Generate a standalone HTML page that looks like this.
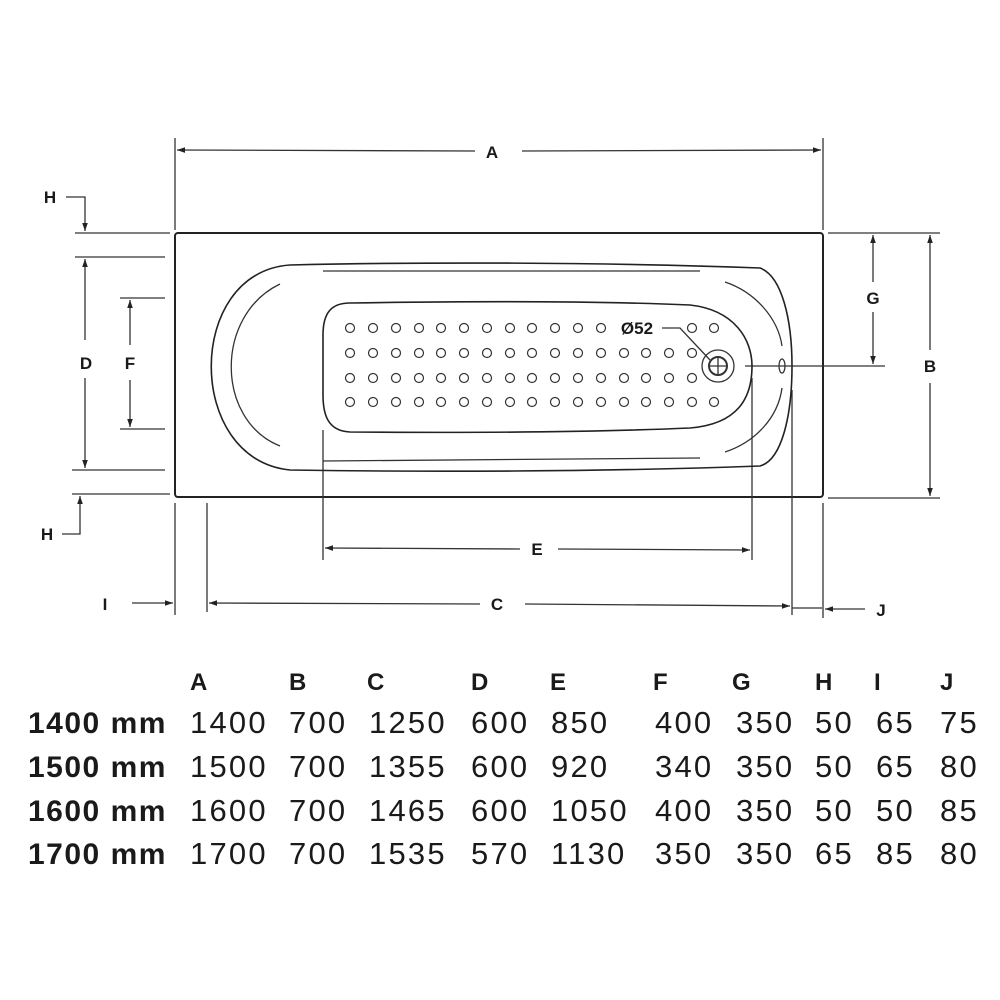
<!DOCTYPE html>
<html><head><meta charset="utf-8"><style>
html,body{margin:0;padding:0;background:#fff;}
svg{display:block;}
text{font-family:"Liberation Sans",sans-serif;fill:#1a1a1a;}
</style></head><body>
<svg width="1000" height="1000" viewBox="0 0 1000 1000" xmlns="http://www.w3.org/2000/svg">
<defs>
<marker id="ar" viewBox="0 0 10 10" refX="10" refY="5" markerWidth="10" markerHeight="10" markerUnits="userSpaceOnUse" orient="auto-start-reverse"><path d="M0,2 L10,5 L0,8 Z" fill="#222"/></marker>
<marker id="arl" viewBox="0 0 10 10" refX="10" refY="5" markerWidth="16" markerHeight="8" markerUnits="userSpaceOnUse" orient="auto-start-reverse"><path d="M0,1.5 L10,5 L0,8.5 Z" fill="#222"/></marker>
</defs>
<g stroke="#333" stroke-width="1.3" fill="none">
<!-- A -->
<line x1="175" y1="138" x2="175" y2="230"/>
<line x1="823" y1="138" x2="823" y2="230"/>
<line x1="177" y1="150" x2="475" y2="151" marker-start="url(#arl)"/>
<line x1="522" y1="151" x2="821" y2="150" marker-end="url(#arl)"/>
<!-- outer rect -->
<rect x="175" y="233" width="648" height="264" rx="3" stroke-width="2" stroke="#222"/>
<!-- left dims -->
<line x1="75" y1="233" x2="170" y2="233"/>
<line x1="75" y1="257" x2="165" y2="257"/>
<line x1="120" y1="298" x2="165" y2="298"/>
<line x1="120" y1="429" x2="165" y2="429"/>
<line x1="72" y1="470" x2="165" y2="470"/>
<line x1="72" y1="494" x2="170" y2="494"/>
<polyline points="66,197 85,197 85,231" marker-end="url(#arl)"/>
<line x1="85" y1="340" x2="85" y2="259" marker-end="url(#arl)"/>
<line x1="85" y1="378" x2="85" y2="468" marker-end="url(#arl)"/>
<polyline points="62,534 80,534 80,496" marker-end="url(#arl)"/>
<line x1="130" y1="345" x2="130" y2="300" marker-end="url(#arl)"/>
<line x1="130" y1="380" x2="130" y2="427" marker-end="url(#arl)"/>
<!-- right dims -->
<line x1="828" y1="233" x2="940" y2="233"/>
<line x1="828" y1="498" x2="940" y2="498"/>
<line x1="745" y1="366" x2="885" y2="366"/>
<line x1="873" y1="282" x2="873" y2="235" marker-end="url(#arl)"/>
<line x1="873" y1="312" x2="873" y2="364" marker-end="url(#arl)"/>
<line x1="930" y1="350" x2="930" y2="235" marker-end="url(#arl)"/>
<line x1="930" y1="383" x2="930" y2="496" marker-end="url(#arl)"/>
<!-- bottom extension lines -->
<line x1="175" y1="503" x2="175" y2="615"/>
<line x1="207" y1="503" x2="207" y2="612"/>
<line x1="323" y1="430" x2="323" y2="560"/>
<line x1="752" y1="378" x2="752" y2="560"/>
<line x1="792" y1="390" x2="792" y2="615"/>
<line x1="823" y1="503" x2="823" y2="618"/>
<!-- E -->
<line x1="520" y1="549" x2="325" y2="548" marker-end="url(#arl)"/>
<line x1="558" y1="549" x2="750" y2="550" marker-end="url(#arl)"/>
<!-- C -->
<line x1="480" y1="604" x2="209" y2="603" marker-end="url(#arl)"/>
<line x1="525" y1="604" x2="790" y2="606" marker-end="url(#arl)"/>
<!-- I, J -->
<line x1="132" y1="603" x2="173" y2="603" marker-end="url(#arl)"/>
<line x1="792" y1="608" x2="822" y2="608"/>
<line x1="865" y1="609" x2="825" y2="609" marker-end="url(#arl)"/>
<!-- tub outline -->
<path d="M290,265 C420,262 600,262 760,268 C782,276 792,320 792,366 C792,415 782,460 760,466 C600,472 420,472 290,470 C185,460 185,272 290,265 Z" stroke="#222" stroke-width="1.6"/>
<path d="M280,284 C215,315 215,420 280,446"/>
<line x1="323" y1="271" x2="700" y2="271"/>
<line x1="323" y1="461" x2="700" y2="458"/>
<path d="M725,282 C755,292 778,318 782,346"/>
<path d="M782,388 C778,418 755,442 725,452"/>
<!-- basin -->
<path d="M350,303 C480,301 600,301 690,305 C735,310 752,340 752,366 C752,398 738,424 690,428 C600,432 480,433 350,432 C328,431 323,415 323,395 L323,335 C323,312 332,303 350,303 Z" stroke="#222" stroke-width="1.6"/>
<!-- drain -->
<circle cx="718" cy="366" r="16"/>
<circle cx="718" cy="366" r="9" stroke-width="2"/>
<line x1="709" y1="366" x2="727" y2="366"/>
<line x1="718" y1="357" x2="718" y2="375"/>
<polyline points="662,328 680,328 710,360"/>
<ellipse cx="782" cy="366" rx="3" ry="7"/>
</g>
<g stroke="#333" stroke-width="1.2" fill="none">
<!-- dots -->
<g id="dots"></g>
</g>
<g stroke="#333" stroke-width="1.2" fill="none">
<!-- row1 -->
<circle cx="350" cy="328" r="4.5"/><circle cx="373" cy="328" r="4.5"/><circle cx="396" cy="328" r="4.5"/><circle cx="419" cy="328" r="4.5"/><circle cx="441" cy="328" r="4.5"/><circle cx="464" cy="328" r="4.5"/><circle cx="487" cy="328" r="4.5"/><circle cx="510" cy="328" r="4.5"/><circle cx="532" cy="328" r="4.5"/><circle cx="555" cy="328" r="4.5"/><circle cx="578" cy="328" r="4.5"/><circle cx="601" cy="328" r="4.5"/><circle cx="692" cy="328" r="4.5"/><circle cx="714" cy="328" r="4.5"/>
<!-- row2 -->
<circle cx="350" cy="353" r="4.5"/><circle cx="373" cy="353" r="4.5"/><circle cx="396" cy="353" r="4.5"/><circle cx="419" cy="353" r="4.5"/><circle cx="441" cy="353" r="4.5"/><circle cx="464" cy="353" r="4.5"/><circle cx="487" cy="353" r="4.5"/><circle cx="510" cy="353" r="4.5"/><circle cx="532" cy="353" r="4.5"/><circle cx="555" cy="353" r="4.5"/><circle cx="578" cy="353" r="4.5"/><circle cx="601" cy="353" r="4.5"/><circle cx="624" cy="353" r="4.5"/><circle cx="646" cy="353" r="4.5"/><circle cx="669" cy="353" r="4.5"/><circle cx="692" cy="353" r="4.5"/>
<!-- row3 -->
<circle cx="350" cy="378" r="4.5"/><circle cx="373" cy="378" r="4.5"/><circle cx="396" cy="378" r="4.5"/><circle cx="419" cy="378" r="4.5"/><circle cx="441" cy="378" r="4.5"/><circle cx="464" cy="378" r="4.5"/><circle cx="487" cy="378" r="4.5"/><circle cx="510" cy="378" r="4.5"/><circle cx="532" cy="378" r="4.5"/><circle cx="555" cy="378" r="4.5"/><circle cx="578" cy="378" r="4.5"/><circle cx="601" cy="378" r="4.5"/><circle cx="624" cy="378" r="4.5"/><circle cx="646" cy="378" r="4.5"/><circle cx="669" cy="378" r="4.5"/><circle cx="692" cy="378" r="4.5"/>
<!-- row4 -->
<circle cx="350" cy="402" r="4.5"/><circle cx="373" cy="402" r="4.5"/><circle cx="396" cy="402" r="4.5"/><circle cx="419" cy="402" r="4.5"/><circle cx="441" cy="402" r="4.5"/><circle cx="464" cy="402" r="4.5"/><circle cx="487" cy="402" r="4.5"/><circle cx="510" cy="402" r="4.5"/><circle cx="532" cy="402" r="4.5"/><circle cx="555" cy="402" r="4.5"/><circle cx="578" cy="402" r="4.5"/><circle cx="601" cy="402" r="4.5"/><circle cx="624" cy="402" r="4.5"/><circle cx="646" cy="402" r="4.5"/><circle cx="669" cy="402" r="4.5"/><circle cx="692" cy="402" r="4.5"/><circle cx="714" cy="402" r="4.5"/>
</g>
<!-- diagram labels -->
<g font-size="17" font-weight="bold" text-anchor="middle">
<text x="492" y="158">A</text>
<text x="50" y="203">H</text>
<text x="86" y="369">D</text>
<text x="130" y="369">F</text>
<text x="47" y="540">H</text>
<text x="537" y="555">E</text>
<text x="497" y="610">C</text>
<text x="105" y="610">I</text>
<text x="881" y="616">J</text>
<text x="873" y="304">G</text>
<text x="930" y="372">B</text>
<text x="637" y="334">Ø52</text>
</g>
<!-- table -->
<g font-size="24" font-weight="bold">
<text x="190" y="690">A</text><text x="289" y="690">B</text><text x="367" y="690">C</text><text x="471" y="690">D</text><text x="550" y="690">E</text><text x="653" y="690">F</text><text x="732" y="690">G</text><text x="815" y="690">H</text><text x="874" y="690">I</text><text x="940" y="690">J</text>
</g>
<g font-size="30" font-weight="bold" letter-spacing="1.5">
<text x="28" y="733">1400 mm</text>
<text x="28" y="777">1500 mm</text>
<text x="28" y="821">1600 mm</text>
<text x="28" y="864">1700 mm</text>
</g>
<g font-size="31" letter-spacing="2.2">
<text y="733"><tspan x="190">1400</tspan><tspan x="289">700</tspan><tspan x="369">1250</tspan><tspan x="471">600</tspan><tspan x="551">850</tspan><tspan x="655">400</tspan><tspan x="736">350</tspan><tspan x="815">50</tspan><tspan x="876">65</tspan><tspan x="940">75</tspan></text>
<text y="777"><tspan x="190">1500</tspan><tspan x="289">700</tspan><tspan x="369">1355</tspan><tspan x="471">600</tspan><tspan x="551">920</tspan><tspan x="655">340</tspan><tspan x="736">350</tspan><tspan x="815">50</tspan><tspan x="876">65</tspan><tspan x="940">80</tspan></text>
<text y="821"><tspan x="190">1600</tspan><tspan x="289">700</tspan><tspan x="369">1465</tspan><tspan x="471">600</tspan><tspan x="551">1050</tspan><tspan x="655">400</tspan><tspan x="736">350</tspan><tspan x="815">50</tspan><tspan x="876">50</tspan><tspan x="940">85</tspan></text>
<text y="864"><tspan x="190">1700</tspan><tspan x="289">700</tspan><tspan x="369">1535</tspan><tspan x="471">570</tspan><tspan x="551">1130</tspan><tspan x="655">350</tspan><tspan x="736">350</tspan><tspan x="815">65</tspan><tspan x="876">85</tspan><tspan x="940">80</tspan></text>
</g>
</svg>
</body></html>
